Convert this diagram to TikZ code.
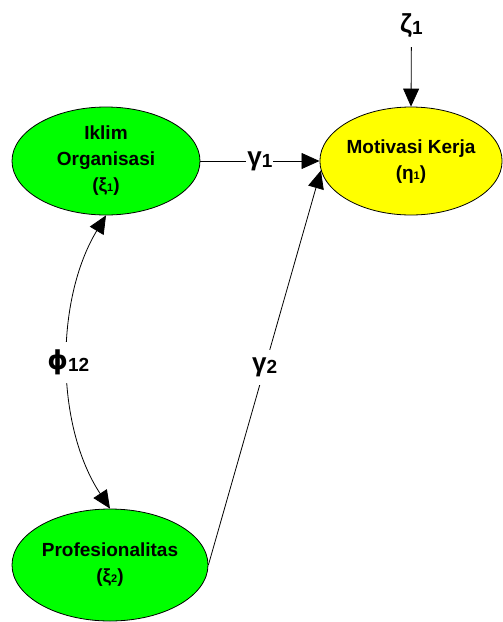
\documentclass[tikz,border=0pt]{standalone}
\usepackage{fontspec}
\setmainfont{Liberation Sans}
\newfontfamily\phifont{DejaVu Sans}
\usetikzlibrary{shapes.geometric,arrows.meta}
\definecolor{exofill}{RGB}{0,255,0}
\definecolor{endofill}{RGB}{255,255,0}
% large Greek symbol with an ordinary-size subscript (path coefficients)
\newcommand\coefsym[2]{{\fontsize{26}{26}\selectfont #1}\raisebox{-2pt}{\fontsize{19}{19}\selectfont #2}}
% Greek symbol with a small subscript (inside the latent variables)
\newcommand\latsym[2]{#1{\fontsize{11}{11}\selectfont #2}}
\begin{document}
\begin{tikzpicture}[x=1pt,y=-1pt,
  latent/.style={ellipse, draw=black, line width=0.8pt, inner sep=0pt,
    font=\bfseries\fontsize{19}{26}\selectfont, align=center},
  pathline/.style={line width=0.8pt, -{Triangle[length=18pt,width=16pt]}},
  coef/.style={fill=white, inner xsep=1pt, inner ysep=8pt, font=\bfseries}]
\useasboundingbox (0,0) rectangle (503,622);

% latent variables
\node[latent, fill=exofill, minimum width=188pt, minimum height=108pt]
  (iklim) at (106,161) {Iklim\\Organisasi\\(\latsym{ξ}{1})};
\node[latent, fill=endofill, minimum width=182pt, minimum height=108pt]
  (motiv) at (411,161) {\rule{0pt}{14pt}Motivasi Kerja\\(\latsym{η}{1})};
\node[latent, fill=exofill, minimum width=196pt, minimum height=112pt]
  (prof) at (110,565) {Profesionalitas\\(\latsym{ξ}{2})};

% disturbance term
\node[font=\bfseries, inner sep=1pt] (zeta) at (411.5,26) {\coefsym{ζ}{1}};
\draw[pathline, shorten <=8pt] (zeta) -- (motiv.north);

% structural paths
\draw[pathline] (iklim.east) -- node[coef] {\coefsym{γ}{1}} (motiv.west);
\draw[pathline] (prof.east) -- node[coef] {\coefsym{γ}{2}} (motiv.186);

% correlation between the exogenous variables
\draw[line width=0.8pt, {Triangle[length=18pt,width=16pt]}-{Triangle[length=18pt,width=16pt]}]
  (iklim.south) .. controls (55,300) and (55,425) ..
  node[coef] {\coefsym{\phifont ϕ}{12}} (prof.north);
\end{tikzpicture}
\end{document}
